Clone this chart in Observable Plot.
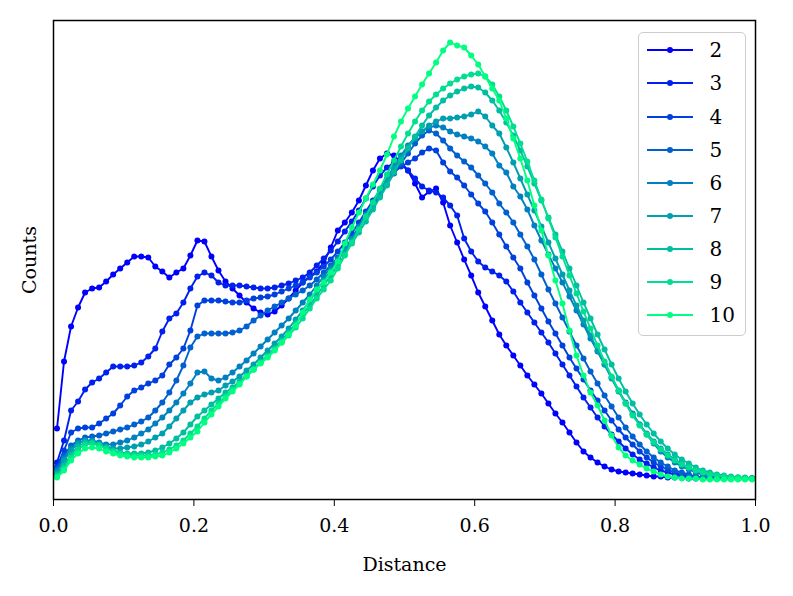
<!DOCTYPE html>
<html>
<head>
<meta charset="utf-8">
<script src="https://cdn.jsdelivr.net/npm/d3@7"></script>
<script src="https://cdn.jsdelivr.net/npm/@observablehq/plot@0.6"></script>
<style>
  html, body { margin: 0; padding: 0; background: #fff; }
  #wrap { position: relative; width: 793px; height: 596px; font-family: "DejaVu Serif", serif; }
  #legend { position: absolute; left: 637.5px; top: 31.5px; width: 108px; height: 304px;
    box-sizing: border-box; border: 1.3px solid #cccccc; border-radius: 5px; background: rgba(255,255,255,0.8); }
  .row { position: absolute; left: 0; height: 24px; display: flex; align-items: center; }
  .row svg { position: absolute; left: 7px; top: 7px; }
  .row span { position: absolute; left: 71px; top: 0; font-size: 20px; line-height: 24px; color: #000; white-space: nowrap; }
</style>
</head>
<body>
<div id="wrap"><div id="chart"></div><div id="legend"></div></div>
<script>
// Series labels (number of clusters) and counts per distance bin (100 bins from 0 to 1)
const names = ["2", "3", "4", "5", "6", "7", "8", "9", "10"];
const xTicks = [0, 0.2, 0.4, 0.6, 0.8, 1.0];
const xTickLabels = ["0.0", "0.2", "0.4", "0.6", "0.8", "1.0"];

const s2 = [52,119,154,173,188,192,193,199,206,212,
218,224,224,223,214,209,203,208,212,225,
240,239,224,210,199,192,185,178,172,168,
166,169,175,182,190,198,204,209,218,233,
250,258,268,280,295,310,322,327,325,318,
310,297,283,289,292,278,255,238,221,205,
188,174,160,146,135,125,115,105,96,87,
77,67,58,48,38,29,23,18,14,11,
9,8,7,6,5,4,4,3,3,3,
2,2,2,2,2,2,2,2,2,2];
const s3 = [18,40,70,79,91,98,102,108,114,114,
114,115,118,124,132,149,162,167,178,192,
204,208,205,198,195,195,195,194,193,192,
192,193,195,197,200,203,208,215,222,230,
239,249,259,270,282,294,305,313,318,316,
310,302,294,290,288,283,275,265,242,229,
219,213,209,205,199,189,178,168,158,148,
138,127,116,105,94,83,73,63,54,46,
39,32,26,21,17,13,10,8,6,5,
4,3,3,2,2,2,2,2,2,2];
const s4 = [14,30,48,52,53,53,57,62,67,75,
84,90,93,97,100,105,116,123,132,150,
175,180,180,180,179,178,178,180,182,183,
184,186,189,192,195,198,203,208,214,221,
229,238,247,258,269,280,290,300,308,314,
318,322,328,332,330,318,309,303,295,286,
277,269,258,246,234,223,212,198,185,172,
159,147,135,123,112,101,90,80,70,60,
51,43,36,29,23,18,14,11,8,6,
5,4,3,3,2,2,2,2,2,2];
const s5 = [12,25,35,40,43,44,45,47,49,51,
53,56,59,63,70,78,88,100,115,133,
144,147,147,147,147,148,150,154,160,165,
170,174,178,182,186,190,195,201,208,215,
223,232,241,252,263,274,285,296,307,317,
327,337,345,350,347,340,332,325,319,313,
305,297,288,277,268,258,246,234,221,206,
191,177,163,149,135,122,109,97,85,74,
63,53,44,36,29,23,18,14,10,8,
6,4,3,3,2,2,2,2,2,2];
const s6 = [10,22,32,38,40,40,38,36,36,38,
40,43,47,51,57,63,70,78,87,97,
108,109,102,100,103,108,114,120,127,134,
141,148,155,162,170,178,186,195,204,213,
222,232,242,254,266,278,290,302,314,325,
335,343,349,353,355,353,349,346,344,342,
339,334,327,315,308,294,284,271,255,240,
226,212,198,184,170,156,142,129,116,103,
90,78,67,56,46,37,29,23,18,14,
11,8,6,5,4,3,3,2,2,2];
const s7 = [8,20,30,37,40,39,36,34,32,32,
33,34,36,39,43,47,54,62,70,78,
83,86,88,90,95,99,104,110,116,123,
130,137,144,152,161,170,180,190,200,210,
220,230,240,252,264,276,288,300,312,323,
334,342,349,355,359,362,362,363,364,366,
369,364,355,347,333,318,302,286,270,254,
238,222,206,190,175,160,145,130,116,102,
89,77,66,56,47,39,32,26,21,17,
13,10,8,6,5,4,3,3,2,2];
const s8 = [6,15,26,34,38,38,36,33,30,28,
27,27,27,28,30,33,37,42,48,56,
64,70,76,82,88,93,99,105,111,118,
125,132,140,148,157,166,175,185,195,205,
215,226,237,248,259,271,283,295,308,320,
332,344,355,365,373,380,385,389,392,394,
393,388,380,370,358,345,330,314,297,280,
263,246,229,212,195,178,162,146,131,116,
102,89,77,66,56,47,39,32,26,21,
17,13,10,8,6,5,4,3,3,2];
const s9 = [4,12,23,31,36,37,35,32,29,27,
26,25,25,25,26,28,31,35,40,47,
54,62,70,77,84,91,97,104,111,118,
124,131,138,145,153,162,172,182,191,200,
212,225,238,251,264,278,292,306,320,334,
347,359,370,379,386,392,397,401,404,406,
407,404,396,384,370,354,337,319,300,281,
262,243,224,205,187,169,152,135,119,104,
90,77,65,55,46,38,31,25,20,16,
13,10,8,6,5,4,3,3,2,2];
const s10 = [3,10,20,27,32,33,32,29,27,25,
24,23,23,23,24,25,28,32,37,43,
49,58,66,74,82,89,96,104,111,117,
123,130,138,146,155,168,181,191,198,208,
219,237,253,268,282,296,310,326,344,359,
372,384,396,407,418,430,438,435,433,425,
416,404,392,380,362,342,322,300,275,250,
225,200,177,150,125,105,88,75,60,45,
33,25,20,16,12,9,6,4,3,2,
2,2,1,1,1,1,1,1,1,1];

const seriesValues = [s2, s3, s4, s5, s6, s7, s8, s9, s10];
// bin centres of the 100 distance bins
const bins = d3.range(100).map(i => +(0.005 + 0.01 * i).toFixed(3));

const series = names.map((name, j) => seriesValues[j].map((v, i) => ({distance: bins[i], count: v, k: name})));

// matplotlib "winter" colormap sampled for 9 series
const winter = d3.interpolateRgb("#0000ff", "#00ff80");
const palette = names.map((_, i) => winter(i / (names.length - 1)));

const marks = [
  Plot.axisX({ticks: xTicks, tickFormat: (d, i) => xTickLabels[i], tickSize: 7, tickPadding: 12,
    fontSize: 19, label: "Distance", labelAnchor: "center", labelArrow: "none", labelOffset: 71}),
  Plot.axisY({ticks: [], tickSize: 0, label: "Counts", labelAnchor: "center", labelArrow: "none", labelOffset: 31, fontSize: 19})
];
for (const s of series) {
  marks.push(Plot.line(s, {x: "distance", y: "count", stroke: "k", strokeWidth: 1.9}));
  marks.push(Plot.dot(s, {x: "distance", y: "count", fill: "k", r: 3}));
}
marks.push(Plot.frame({stroke: "black", strokeWidth: 1.5}));

const chart = Plot.plot({
  width: 793,
  height: 596,
  marginLeft: 53,
  marginRight: 38,
  marginTop: 20,
  marginBottom: 97,
  x: {domain: [0, 1]},
  y: {domain: [-19, 460]},
  color: {type: "ordinal", domain: names, range: palette},
  style: {fontFamily: "DejaVu Serif", fontSize: "19px", background: "#fff", color: "#000", overflow: "visible"},
  marks
});
document.getElementById("chart").appendChild(chart);

// legend (line + marker swatches), drawn inside the plot area at upper right
const colorScale = chart.scale("color");
const legend = document.getElementById("legend");
names.forEach((name, i) => {
  const row = document.createElement("div");
  row.className = "row";
  row.style.top = (5.8 + 33.1 * i) + "px";
  const c = colorScale.apply(name);
  row.innerHTML = `<svg width="48" height="10"><line x1="1" x2="47" y1="5" y2="5" stroke="${c}" stroke-width="1.9"/><circle cx="24" cy="5" r="3" fill="${c}"/></svg><span>${name}</span>`;
  legend.appendChild(row);
});
</script>
</body>
</html>
